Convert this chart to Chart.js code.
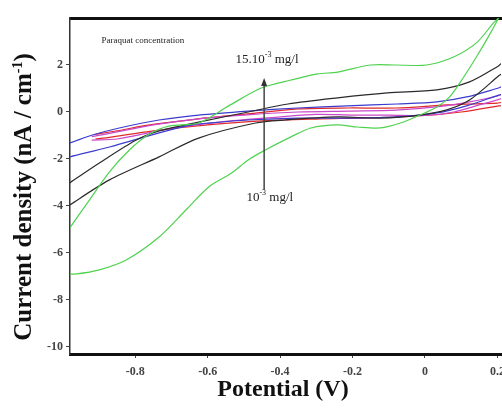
<!DOCTYPE html>
<html lang="en">
<head>
    <meta charset="UTF-8">
    <title>Paraquat concentration - cyclic voltammograms</title>
    <script src="https://cdn.jsdelivr.net/npm/chart.js"></script>
    <style>
        body {
            margin: 0;
            background: #fff;
            overflow: hidden;
        }
        .chart-wrapper {
            position: absolute;
            left: 0;
            top: 0;
            width: 512px;
            height: 412px;
        }
    </style>
</head>
<body>
<div class="chart-wrapper">
    <canvas id="cvChart"></canvas>
</div>

<script>
    // tick labels
    const xTicks = [-0.8, -0.6, -0.4, -0.2, 0, 0.2];
    const yTicks = [-10, -8, -6, -4, -2, 0, 2];

    // each loop: forward sweep left -> right, then back right -> left
    const greenV = [-1.0, -0.981, -0.926, -0.871, -0.816, -0.762, -0.707, -0.625, -0.542, -0.452, -0.37, -0.296, -0.241, -0.151, -0.077, 0.005, 0.079, 0.142, 0.189, 0.203, 0.215,
        0.203, 0.178, 0.142, 0.107, 0.068, 0.033, -0.014, -0.068, -0.123, -0.186, -0.241, -0.315, -0.37, -0.441, -0.488, -0.534, -0.597, -0.66, -0.734, -0.825, -0.899, -0.962, -1.0];
    const greenI = [-5.36, -4.94, -3.74, -2.55, -1.62, -0.95, -0.6, -0.47, 0.26, 1.02, 1.36, 1.62, 1.7, 2.0, 2.0, 2.0, 2.34, 2.94, 3.79, 4.0, 4.5,
        4.0, 3.28, 2.34, 1.49, 0.64, 0.21, -0.13, -0.47, -0.68, -0.64, -0.55, -0.68, -1.06, -1.62, -2.04, -2.6, -3.19, -4.17, -5.32, -6.3, -6.72, -6.89, -6.9];

    const blackV = [-1.0, -0.981, -0.899, -0.797, -0.734, -0.625, -0.488, -0.378, -0.241, -0.104, 0.033, 0.123, 0.203, 0.215,
        0.215, 0.203, 0.123, 0.06, -0.014, -0.123, -0.241, -0.386, -0.468, -0.625, -0.734, -0.871, -0.981, -1.0];
    const blackI = [-3.23, -3.02, -2.17, -1.19, -0.81, -0.43, 0.0, 0.34, 0.6, 0.81, 0.94, 1.28, 1.96, 2.1,
        1.7, 1.53, 0.51, 0.09, -0.13, -0.26, -0.21, -0.34, -0.47, -1.11, -1.91, -2.89, -3.96, -4.17];

    const blueV = [-1.0, -0.981, -0.918, -0.844, -0.734, -0.625, -0.488, -0.351, -0.214, -0.077, 0.033, 0.115, 0.203, 0.215,
        0.215, 0.203, 0.115, 0.033, -0.077, -0.214, -0.351, -0.488, -0.597, -0.644, -0.734, -0.871, -0.981, -1.0];
    const blueI = [-1.4, -1.32, -0.98, -0.68, -0.34, -0.13, 0.04, 0.17, 0.26, 0.34, 0.43, 0.64, 1.02, 1.08,
        0.78, 0.72, 0.26, -0.04, -0.21, -0.26, -0.26, -0.34, -0.47, -0.55, -0.89, -1.49, -1.91, -2.0];

    const magentaV = [-0.92, -0.85, -0.75, -0.62, -0.49, -0.35, -0.21, -0.08, 0.05, 0.13, 0.2, 0.215,
        0.215, 0.15, 0.08, 0.0, -0.1, -0.2, -0.3, -0.4, -0.55, -0.7, -0.85, -0.92];
    const magentaI = [-1.05, -0.85, -0.55, -0.28, -0.12, 0.0, 0.04, 0.08, 0.25, 0.45, 0.68, 0.75,
        0.6, 0.3, 0.0, -0.15, -0.13, -0.13, -0.1, -0.21, -0.4, -0.7, -1.15, -1.2];

    const redV = [-0.91, -0.85, -0.76, -0.63, -0.49, -0.35, -0.21, -0.08, 0.06, 0.2, 0.215,
        0.215, 0.2, 0.1, 0.0, -0.15, -0.3, -0.45, -0.6, -0.75, -0.88, -0.91];
    const redI = [-0.95, -0.8, -0.55, -0.3, -0.08, 0.13, 0.17, 0.17, 0.3, 0.38, 0.4,
        0.3, 0.25, 0.0, -0.15, -0.25, -0.3, -0.38, -0.55, -0.8, -1.1, -1.15];

    const pair = (vs, is) => vs.map((v, i) => ({x: v, y: is[i]}));

    const loops = [
        {label: '15.10-3 mg/l', v: greenV, i: greenI, color: '#4fd24f'},
        {label: 'black', v: blackV, i: blackI, color: '#2a2a2a'},
        {label: 'blue', v: blueV, i: blueI, color: '#3b3bcf'},
        {label: 'magenta', v: magentaV, i: magentaI, color: '#c948c9'},
        {label: '10-3 mg/l', v: redV, i: redI, color: '#e02a2a'}
    ];

    const serif = '"Liberation Serif", "Times New Roman", serif';

    function drawParts(ctx, parts, x, y) {
        let cx = x;
        parts.forEach(p => {
            ctx.font = p[1] + 'px ' + serif;
            ctx.fillText(p[0], cx, y + p[2]);
            cx += ctx.measureText(p[0]).width;
        });
    }

    const notes = {
        id: 'notes',
        afterDatasetsDraw(chart) {
            const ctx = chart.ctx;
            const xs = chart.scales.x;
            const ys = chart.scales.y;
            ctx.save();
            ctx.fillStyle = '#222';
            ctx.textBaseline = 'alphabetic';
            ctx.textAlign = 'left';

            ctx.font = '9px ' + serif;
            ctx.fillText('Paraquat concentration', xs.getPixelForValue(-0.893), ys.getPixelForValue(2.95));

            drawParts(ctx, [['15.10', 13, 0], ['-3', 8, -6], [' mg/l', 13, 0]],
                xs.getPixelForValue(-0.523), ys.getPixelForValue(2.09));
            drawParts(ctx, [['10', 13, 0], ['-3', 8, -6], [' mg/l', 13, 0]],
                xs.getPixelForValue(-0.493), ys.getPixelForValue(-3.79));

            // arrow
            const ax = xs.getPixelForValue(-0.444);
            const ay0 = ys.getPixelForValue(-3.32);
            const ay1 = ys.getPixelForValue(1.45);
            ctx.strokeStyle = '#444';
            ctx.lineWidth = 1.5;
            ctx.beginPath();
            ctx.moveTo(ax, ay0);
            ctx.lineTo(ax, ay1 + 6);
            ctx.stroke();
            ctx.fillStyle = '#333';
            ctx.beginPath();
            ctx.moveTo(ax, ay1);
            ctx.lineTo(ax - 3, ay1 + 8);
            ctx.lineTo(ax + 3, ay1 + 8);
            ctx.closePath();
            ctx.fill();

            // axis titles
            ctx.fillStyle = '#111';
            ctx.textAlign = 'center';
            ctx.textBaseline = 'middle';
            ctx.font = 'bold 24px ' + serif;
            ctx.fillText('Potential (V)', 283, 390);

            ctx.translate(25, 197);
            ctx.rotate(-Math.PI / 2);
            ctx.textAlign = 'left';
            const main = 'Current density (nA / cm';
            const sup = '-1';
            ctx.font = 'bold 25px ' + serif;
            const w1 = ctx.measureText(main).width;
            ctx.font = 'bold 14px ' + serif;
            const w2 = ctx.measureText(sup).width;
            ctx.font = 'bold 25px ' + serif;
            const w3 = ctx.measureText(')').width;
            let sx = -(w1 + w2 + w3) / 2;
            ctx.fillText(main, sx, 0);
            sx += w1;
            ctx.font = 'bold 14px ' + serif;
            ctx.fillText(sup, sx, -7);
            sx += w2;
            ctx.font = 'bold 25px ' + serif;
            ctx.fillText(')', sx, 0);
            ctx.restore();
        }
    };

    const tickFont = {family: serif, size: 12, weight: 'bold'};

    new Chart(document.getElementById('cvChart'), {
        type: 'scatter',
        data: {
            datasets: loops.map(l => ({
                label: l.label,
                data: pair(l.v, l.i),
                showLine: true,
                borderColor: l.color,
                borderWidth: 1.2,
                pointRadius: 0,
                tension: 0.3
            }))
        },
        options: {
            responsive: true,
            maintainAspectRatio: false,
            animation: false,
            layout: {padding: 0},
            plugins: {
                legend: {display: false},
                tooltip: {enabled: false}
            },
            scales: {
                x: {
                    type: 'linear',
                    position: 'bottom',
                    min: -0.98,
                    max: 0.21,
                    afterFit: s => { s.height = 58; },
                    afterBuildTicks: s => { s.ticks = xTicks.map(v => ({value: v})); },
                    grid: {display: true, drawOnChartArea: false, drawTicks: true, tickLength: 4, color: '#444'},
                    border: {display: true, color: '#111', width: 3},
                    ticks: {
                        font: tickFont,
                        color: '#444',
                        padding: 7,
                        maxRotation: 0,
                        callback: v => (v === 0 ? '0' : v.toFixed(1))
                    }
                },
                x2: {
                    type: 'linear',
                    position: 'top',
                    min: -0.98,
                    max: 0.21,
                    afterFit: s => { s.height = 18; },
                    grid: {display: false, drawTicks: false},
                    border: {display: true, color: '#111', width: 3},
                    ticks: {display: false}
                },
                y: {
                    min: -10.3,
                    max: 4,
                    afterFit: s => { s.width = 70; },
                    afterBuildTicks: s => { s.ticks = yTicks.map(v => ({value: v})); },
                    grid: {display: true, drawOnChartArea: false, drawTicks: true, tickLength: 4, color: '#444'},
                    border: {display: true, color: '#333', width: 1.5},
                    ticks: {
                        font: tickFont,
                        color: '#444',
                        padding: 3,
                        callback: v => String(v)
                    }
                }
            }
        },
        plugins: [notes]
    });
</script>
</body>
</html>
